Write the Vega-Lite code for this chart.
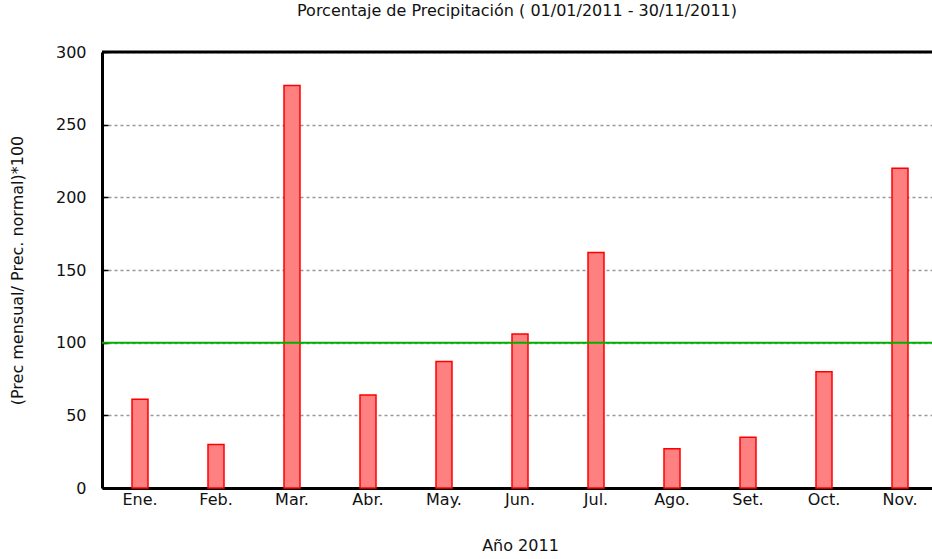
{
  "$schema": "https://vega.github.io/schema/vega-lite/v6.json",
  "autosize": "none",
  "width": 830,
  "height": 436,
  "padding": {"left": 102, "top": 52, "right": 0, "bottom": 71},
  "background": "white",
  "config": {
    "view": {"stroke": null},
    "font": "DejaVu Sans"
  },
  "title": {
    "text": "Porcentaje de Precipitación  ( 01/01/2011  - 30/11/2011)",
    "fontSize": 16,
    "fontWeight": "normal",
    "color": "#111",
    "anchor": "middle",
    "offset": 25
  },
  "data": {
    "values": [
      {"mes": "Ene.", "orden": 1, "porcentaje": 61},
      {"mes": "Feb.", "orden": 2, "porcentaje": 30},
      {"mes": "Mar.", "orden": 3, "porcentaje": 277},
      {"mes": "Abr.", "orden": 4, "porcentaje": 64},
      {"mes": "May.", "orden": 5, "porcentaje": 87},
      {"mes": "Jun.", "orden": 6, "porcentaje": 106},
      {"mes": "Jul.", "orden": 7, "porcentaje": 162},
      {"mes": "Ago.", "orden": 8, "porcentaje": 27},
      {"mes": "Set.", "orden": 9, "porcentaje": 35},
      {"mes": "Oct.", "orden": 10, "porcentaje": 80},
      {"mes": "Nov.", "orden": 11, "porcentaje": 220}
    ]
  },
  "layer": [
    {
      "mark": {"type": "bar", "fill": "#ff8080", "stroke": "#ff0000", "strokeWidth": 1.5, "width": 16},
      "encoding": {
        "x": {
          "field": "mes",
          "type": "nominal",
          "sort": {"field": "orden"},
          "scale": {"range": [0, 836], "paddingInner": 0, "paddingOuter": 0},
          "axis": {
            "title": "Año 2011",
            "titleFontSize": 16,
            "titleFontWeight": "normal",
            "titleColor": "#111",
            "titlePadding": 30,
            "labelAngle": 0,
            "labelFontSize": 16,
            "labelColor": "#111",
            "labelPadding": 3,
            "ticks": false,
            "domainColor": "#000",
            "domainWidth": 3,
            "grid": false
          }
        },
        "y": {
          "field": "porcentaje",
          "type": "quantitative",
          "scale": {"domain": [0, 300], "nice": false},
          "axis": {
            "title": "(Prec mensual/ Prec. normal)*100",
            "titleFontSize": 16,
            "titleFontWeight": "normal",
            "titleColor": "#111",
            "titlePadding": 30,
            "values": [0, 50, 100, 150, 200, 250, 300],
            "labelFontSize": 16,
            "labelColor": "#111",
            "labelPadding": 22,
            "tickSize": -6,
            "tickColor": "#000",
            "tickWidth": 1.5,
            "domainColor": "#000",
            "domainWidth": 3,
            "grid": true,
            "gridColor": "#999",
            "gridDash": [3, 3],
            "gridWidth": 1.5
          }
        }
      }
    },
    {
      "data": {"values": [{"ref": 100, "tipo": "normal"}]},
      "mark": {"type": "rule", "color": "#00b000", "strokeWidth": 2},
      "encoding": {"y": {"field": "ref", "type": "quantitative"}}
    },
    {
      "data": {"values": [{"borde": 300}]},
      "mark": {"type": "rule", "color": "#000", "strokeWidth": 3},
      "encoding": {"y": {"field": "borde", "type": "quantitative"}}
    }
  ]
}
